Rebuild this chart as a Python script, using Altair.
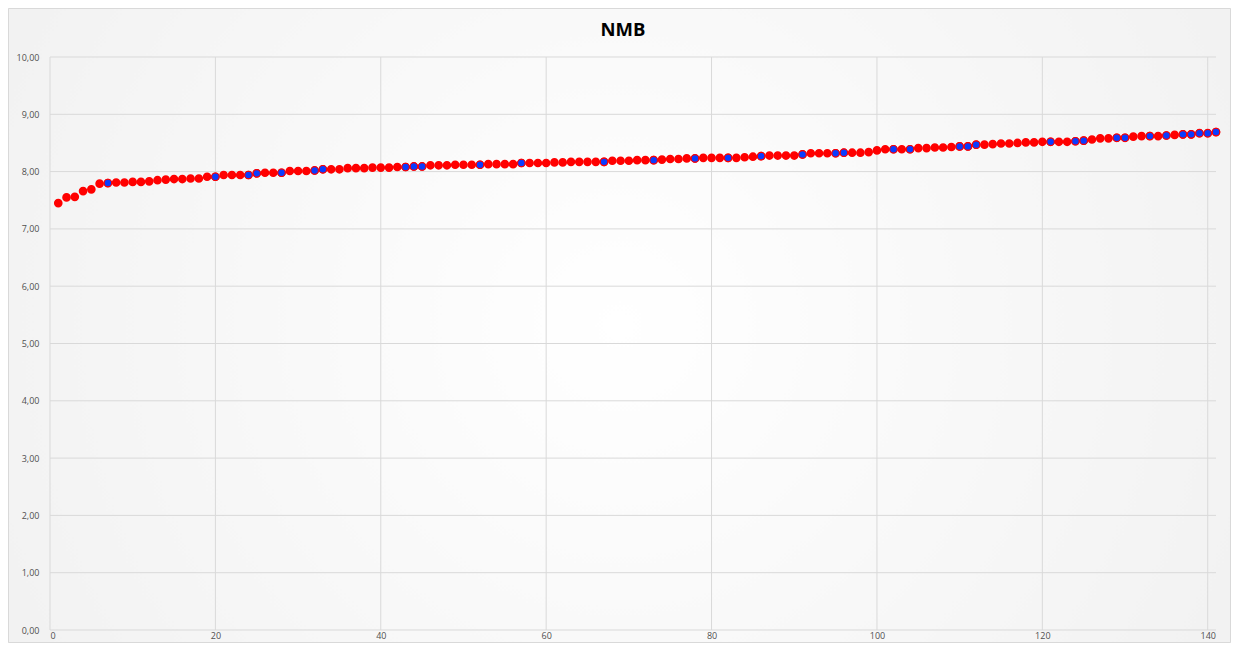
import altair as alt
import pandas as pd

title_text = "NMB"
x_ticks = [0, 20, 40, 60, 80, 100, 120, 140]
y_ticks = [0, 1, 2, 3, 4, 5, 6, 7, 8, 9, 10]

x_values = list(range(1, 142))
y_values = [
    7.45, 7.55, 7.56, 7.66, 7.69, 7.79, 7.80, 7.81, 7.81, 7.82,
    7.82, 7.83, 7.85, 7.86, 7.87, 7.87, 7.88, 7.88, 7.91, 7.91,
    7.94, 7.94, 7.94, 7.94, 7.97, 7.98, 7.98, 7.98, 8.01, 8.01,
    8.01, 8.02, 8.04, 8.04, 8.04, 8.06, 8.06, 8.06, 8.07, 8.07,
    8.07, 8.08, 8.08, 8.09, 8.09, 8.11, 8.11, 8.11, 8.12, 8.12,
    8.12, 8.12, 8.13, 8.13, 8.13, 8.13, 8.15, 8.15, 8.15, 8.15,
    8.16, 8.16, 8.17, 8.17, 8.17, 8.17, 8.17, 8.19, 8.19, 8.19,
    8.20, 8.20, 8.20, 8.21, 8.22, 8.22, 8.23, 8.23, 8.24, 8.24,
    8.24, 8.24, 8.24, 8.25, 8.26, 8.27, 8.28, 8.28, 8.28, 8.28,
    8.30, 8.32, 8.32, 8.32, 8.32, 8.33, 8.33, 8.33, 8.34, 8.37,
    8.39, 8.39, 8.39, 8.39, 8.41, 8.41, 8.42, 8.42, 8.43, 8.44,
    8.44, 8.47, 8.47, 8.48, 8.49, 8.49, 8.50, 8.51, 8.51, 8.52,
    8.52, 8.52, 8.52, 8.53, 8.54, 8.56, 8.58, 8.58, 8.59, 8.59,
    8.61, 8.62, 8.62, 8.62, 8.63, 8.64, 8.65, 8.65, 8.67, 8.67,
    8.69,
]
blue_points = [7, 20, 24, 25, 28, 32, 33, 43, 44, 45, 52, 57, 67, 73, 78, 82,
               86, 91, 95, 96, 102, 104, 110, 111, 112, 121, 124, 125, 129,
               130, 133, 135, 137, 138, 139, 140, 141]

df = pd.DataFrame({"x": x_values, "y": y_values})
df["grp"] = ["B" if v in blue_points else "A" for v in x_values]

W, H = 1166, 573
PL, PT, PR, PB = 42, 49, 15, 13
GRID = "#d9d9d9"

x_scale = alt.Scale(domain=[0, 141], nice=False, zero=False)
y_scale = alt.Scale(domain=[0, 10], nice=False)
x_axis = alt.Axis(values=x_ticks, title=None, labelPadding=1,
                  grid=False, format="d", zindex=1)
y_axis = alt.Axis(values=y_ticks, title=None, labelPadding=11, grid=False,
                  zindex=1,
                  labelExpr="replace(format(datum.value, '.2f'), '.', ',')")

bg = alt.Chart(pd.DataFrame({"k": [0]})).mark_rect(
    fill=alt.RadialGradient(
        gradient="radial",
        stops=[alt.GradientStop(offset=0, color="#ffffff"),
               alt.GradientStop(offset=1, color="#ededed")],
        x1=0.5, y1=0.5, x2=0.5, y2=0.5, r1=0, r2=0.75,
    ),
    stroke=GRID, strokeWidth=1,
).encode(
    x=alt.value(-PL + 0.5), x2=alt.value(W + PR - 0.5),
    y=alt.value(-PT + 0.5), y2=alt.value(H + PB - 0.5),
)

vgrid = alt.Chart(pd.DataFrame({"x": x_ticks})).mark_rule(
    color=GRID, strokeWidth=1
).encode(
    x=alt.X("x:Q", scale=x_scale, axis=x_axis),
    y=alt.value(0), y2=alt.value(H),
)
hgrid = alt.Chart(pd.DataFrame({"y": y_ticks})).mark_rule(
    color=GRID, strokeWidth=1
).encode(
    y=alt.Y("y:Q", scale=y_scale, axis=y_axis),
    x=alt.value(0), x2=alt.value(W),
)

xs = alt.X("x:Q", scale=x_scale, axis=x_axis)
ys = alt.Y("y:Q", scale=y_scale, axis=y_axis)

red = alt.Chart(df).mark_circle(
    size=50, opacity=1, fill="#ff0000", stroke="#ff0000", strokeWidth=1.6
).encode(x=xs, y=ys)

blue = alt.Chart(df).transform_filter(alt.datum.grp == "B").mark_circle(
    size=56, opacity=1, fill="#0a3cff", stroke="#ff0000", strokeWidth=1.1
).encode(x=xs, y=ys)

chart = alt.layer(bg, vgrid, hgrid, red, blue).properties(
    width=W, height=H,
    title=alt.TitleParams(title_text, font="Open Sans", fontSize=18.5,
                          fontWeight="bold", color="#000000", offset=-31,
                          dx=-10, zindex=1),
    autosize=alt.AutoSizeParams(type="none"),
    padding={"left": PL, "top": PT, "right": PR, "bottom": PB},
).configure(background="#f2f2f2").configure_view(stroke=None).configure_axis(
    domain=False, ticks=False,
    labelFont="Open Sans", labelFontSize=9, labelColor="#505050",
)

chart.save("out.html", embed_options={"renderer": "svg", "actions": False})
